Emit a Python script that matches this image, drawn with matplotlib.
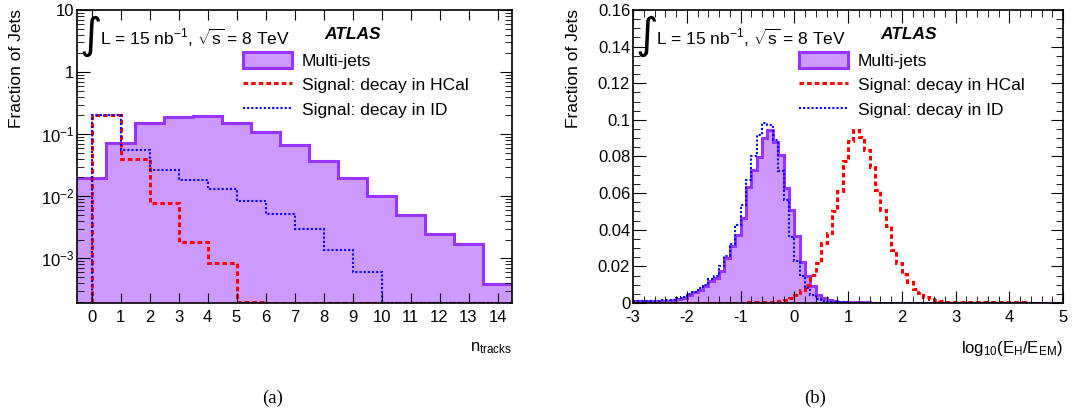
import numpy as np
import matplotlib as mpl
mpl.use('Agg')
import matplotlib.pyplot as plt
from matplotlib.patches import Patch
from matplotlib.lines import Line2D
from matplotlib.ticker import FixedLocator, FuncFormatter, MultipleLocator

plt.rcParams['font.family'] = ['Liberation Sans', 'DejaVu Sans']
plt.rcParams['mathtext.fontset'] = 'custom'
plt.rcParams['mathtext.rm'] = 'Liberation Sans'
plt.rcParams['mathtext.it'] = 'Liberation Sans:italic'
plt.rcParams['mathtext.bf'] = 'Liberation Sans:bold'
plt.rcParams['mathtext.default'] = 'regular'
plt.rcParams['axes.unicode_minus'] = False

# (a) number of tracks, one bin per integer
ntrk_edges_bkg = np.arange(-0.5, 15.0, 1.0)     # multi-jets bins centred on integers
ntrk_edges_sig = np.arange(0, 15, 1.0)          # signal bins start at integers
multijets_ntrk = [0.0193, 0.071, 0.149, 0.186, 0.197, 0.150, 0.109, 0.067,
                  0.037, 0.0195, 0.0101, 0.0050, 0.0025, 0.0017, 0.00038]
hcal_ntrk = [0.20, 0.039, 0.0078, 0.0018, 0.00085, 0.0002, 0, 0, 0, 0, 0, 0, 0, 0]
id_ntrk = [0.20, 0.055, 0.026, 0.018, 0.0132, 0.0084, 0.0051, 0.0030,
           0.00137, 0.0006, 0, 0, 0, 0]

# (b) log10(EH/EEM), bins of 0.1 from -3 to 5
loge_edges = np.round(np.arange(-3.0, 5.01, 0.1), 2)
multijets_loge = [
    0.0010, 0.0010, 0.0009, 0.0010, 0.0010, 0.0011, 0.0012, 0.0014, 0.0020, 0.0030,   # -3.0 .. -2.1
    0.0045, 0.0058, 0.0073, 0.0091, 0.0122, 0.0136, 0.0175, 0.0248, 0.0310, 0.0373,   # -2.0 .. -1.1
    0.0464, 0.0636, 0.0727, 0.0795, 0.0900, 0.0945, 0.0880, 0.0810, 0.0627, 0.0510,   # -1.0 .. -0.1
    0.0364, 0.0222, 0.0149, 0.0091, 0.0045, 0.0027, 0.0015, 0.0009, 0.0006, 0.0004,   #  0.0 ..  0.9
    0.0003, 0.0003, 0.0003, 0.0003, 0.0002, 0.0002, 0.0002, 0.0002, 0.0002, 0.0002,   #  1.0 ..  1.9
    0.0002, 0.0002, 0.0001, 0.0001, 0.0001, 0.0001, 0.0001, 0.0001, 0.0001, 0.0001,   #  2.0 ..  2.9
    0.0001, 0.0001, 0.0001, 0.0001, 0.0001, 0.0001, 0.0001, 0.0001, 0.0001, 0.0001,   #  3.0 ..  3.9
    0.0001, 0.0001, 0.0001, 0.0001, 0.0001, 0.0001, 0.0001, 0.0001, 0.0001, 0.0001]   #  4.0 ..  4.9
hcal_loge = [
    0.0002, 0.0002, 0.0002, 0.0002, 0.0002, 0.0002, 0.0002, 0.0002, 0.0002, 0.0002,
    0.0002, 0.0002, 0.0002, 0.0002, 0.0002, 0.0002, 0.0002, 0.0002, 0.0002, 0.0002,
    0.0002, 0.0003, 0.0003, 0.0004, 0.0005, 0.0006, 0.0008, 0.0012, 0.0018, 0.0027,
    0.0045, 0.0073, 0.0100, 0.0155, 0.0218, 0.0327, 0.0380, 0.0500, 0.0610, 0.0775,
    0.0882, 0.0945, 0.0909, 0.0836, 0.0745, 0.0618, 0.0509, 0.0422, 0.0290, 0.0218,
    0.0157, 0.0112, 0.0078, 0.0052, 0.0034, 0.0021, 0.0015, 0.0011, 0.0008, 0.0006,
    0.0005, 0.0005, 0.0004, 0.0004, 0.0004, 0.0003, 0.0003, 0.0003, 0.0003, 0.0003,
    0.0003, 0.0003, 0.0003, 0.0002, 0.0002, 0.0002, 0.0002, 0.0002, 0.0002, 0.0002]
id_loge = [
    0.0013, 0.0013, 0.0012, 0.0013, 0.0013, 0.0014, 0.0015, 0.0017, 0.0025, 0.0035,
    0.0050, 0.0062, 0.0080, 0.0098, 0.0130, 0.0150, 0.0200, 0.0255, 0.0324, 0.0427,
    0.0536, 0.0673, 0.0800, 0.0918, 0.0985, 0.0970, 0.0890, 0.0720, 0.0560, 0.0360,
    0.0230, 0.0145, 0.0080, 0.0045, 0.0020, 0.0012, 0.0008, 0.0006, 0.0004, 0.0003,
    0.0002, 0.0002, 0.0002, 0.0002, 0.0002, 0.0002, 0.0002, 0.0002, 0.0002, 0.0002,
    0.0001, 0.0001, 0.0001, 0.0001, 0.0001, 0.0001, 0.0001, 0.0001, 0.0001, 0.0001,
    0.0001, 0.0001, 0.0001, 0.0001, 0.0001, 0.0001, 0.0001, 0.0001, 0.0001, 0.0001,
    0.0001, 0.0001, 0.0001, 0.0001, 0.0001, 0.0001, 0.0001, 0.0001, 0.0001, 0.0001]

fill_col = '#cc99ff'
edge_col = '#9933ff'
red = '#ff0000'
blue = '#0000ff'
red_ls = (0, (1.5, 1.0))
blue_ls = (0, (1.0, 1.0))

W, H = 1075, 416
fig = plt.figure(figsize=(W / 100, H / 100), dpi=100)
ax1 = fig.add_axes([77 / W, 1 - 303 / H, 435 / W, 293 / H])
ax2 = fig.add_axes([633 / W, 1 - 303 / H, 430 / W, 293 / H])

# ---- (a)
ymin = 1.9e-4
ax1.set_yscale('log')
ax1.stairs(multijets_ntrk, ntrk_edges_bkg, fill=True, baseline=1e-6,
           color=fill_col, lw=0)
ax1.stairs(multijets_ntrk, ntrk_edges_bkg, baseline=None, color=edge_col, lw=2.2)
ax1.stairs(np.maximum(hcal_ntrk, ymin), ntrk_edges_sig, baseline=ymin,
           color=red, lw=2.2, ls=red_ls)
ax1.stairs(np.maximum(id_ntrk, ymin), ntrk_edges_sig, baseline=ymin,
           color=blue, lw=1.5, ls=blue_ls)
ax1.set_xlim(-0.5, 14.5)
ax1.set_ylim(ymin, 10)
ax1.xaxis.set_major_locator(MultipleLocator(1))
ax1.yaxis.set_major_locator(FixedLocator([1e-3, 1e-2, 1e-1, 1, 10]))
ax1.yaxis.set_minor_locator(FixedLocator(
    [m * 10.0 ** e for e in range(-4, 1) for m in range(2, 10)]))


def logfmt(v, pos):
    e = int(round(np.log10(v)))
    if e == 0:
        return '1'
    if e == 1:
        return '10'
    return '$10^{%d}$' % e


ax1.yaxis.set_major_formatter(FuncFormatter(logfmt))
ax1.yaxis.set_minor_formatter(FuncFormatter(lambda v, p: ''))
ax1.tick_params(axis='x', which='major', direction='in', top=True, length=7,
                labelsize=12, pad=5)
ax1.tick_params(axis='y', which='major', direction='in', right=True, length=9,
                labelsize=12, pad=2)
ax1.tick_params(axis='y', which='minor', direction='in', right=True, length=5)

# ---- (b)
ax2.stairs(multijets_loge, loge_edges, fill=True, baseline=0, color=fill_col, lw=0)
ax2.stairs(multijets_loge, loge_edges, baseline=None, color=edge_col, lw=2.2)
ax2.stairs(hcal_loge, loge_edges, baseline=None, color=red, lw=2.2, ls=red_ls)
ax2.stairs(id_loge, loge_edges, baseline=None, color=blue, lw=1.5, ls=blue_ls)
ax2.set_xlim(-3, 5)
ax2.set_ylim(0, 0.16)
ax2.xaxis.set_major_locator(MultipleLocator(1))
ax2.xaxis.set_minor_locator(MultipleLocator(0.2))
ax2.yaxis.set_major_locator(MultipleLocator(0.02))
ax2.yaxis.set_minor_locator(MultipleLocator(0.005))
ax2.yaxis.set_major_formatter(FuncFormatter(lambda v, p: '0' if abs(v) < 1e-9 else ('%g' % v)))
ax2.tick_params(which='both', direction='in', top=True, right=True, labelsize=12)
ax2.tick_params(which='major', length=9)
ax2.tick_params(which='minor', length=5)
ax2.tick_params(axis='x', pad=5)
ax2.tick_params(axis='y', pad=2)

for ax in (ax1, ax2):
    for s in ax.spines.values():
        s.set_linewidth(1.2)

handles = [Patch(facecolor=fill_col, edgecolor=edge_col, lw=2.2, label='Multi-jets'),
           Line2D([], [], color=red, lw=2.2, ls=red_ls, label='Signal: decay in HCal'),
           Line2D([], [], color=blue, lw=1.5, ls=blue_ls, label='Signal: decay in ID')]

for ax, wpx in ((ax1, 435), (ax2, 430)):
    ax.text(14 / wpx, (303 - 36) / 293, '\u222b', transform=ax.transAxes,
            family='DejaVu Sans', fontsize=31, ha='center', va='center')
    ax.text(23 / wpx, (303 - 45) / 293, r'L = 15 nb$^{-1}$, $\sqrt{s}$ = 8 TeV',
            transform=ax.transAxes, fontsize=12.5, ha='left', va='baseline')
    ax.text(276 / wpx, (303 - 39) / 293, 'ATLAS', transform=ax.transAxes,
            fontsize=12.5, fontweight='bold', style='italic', ha='center', va='baseline')
    ax.legend(handles=handles, loc='upper left', bbox_to_anchor=(166 / wpx, (303 - 52) / 293),
              frameon=False, fontsize=12.5, borderpad=0, borderaxespad=0,
              handlelength=2.8, handleheight=1.0, handletextpad=0.6, labelspacing=0.45)

ax1.text(1.0, (303 - 348) / 293, r'n$_{tracks}$', transform=ax1.transAxes,
         fontsize=12, ha='right', va='center')
ax2.text(1.0, (303 - 348) / 293, r'log$_{10}$(E$_{H}$/E$_{EM}$)', transform=ax2.transAxes,
         fontsize=12, ha='right', va='center')

fig.text(17 / W, 1 - 9 / H, 'Fraction of Jets', rotation=90, fontsize=12.5,
         ha='center', va='top')
fig.text(573 / W, 1 - 9 / H, 'Fraction of Jets', rotation=90, fontsize=12.5,
         ha='center', va='top')

fig.text(273 / W, 1 - 398 / H, '(a)', family='Liberation Serif', fontsize=13.5,
         ha='center', va='center')
fig.text(815 / W, 1 - 398 / H, '(b)', family='Liberation Serif', fontsize=13.5,
         ha='center', va='center')

fig.savefig('out.png', dpi=100)
